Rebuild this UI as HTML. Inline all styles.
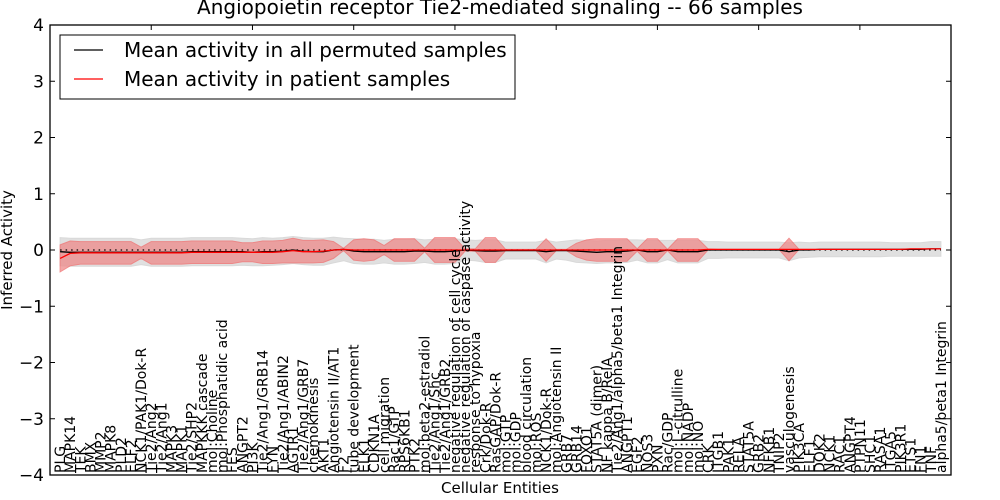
<!DOCTYPE html>
<html><head><meta charset="utf-8"><style>
body{margin:0;background:#fff;}
svg{display:block;font-family:"DejaVu Sans","Liberation Sans",sans-serif;}
</style></head><body>
<svg id="chart" width="1000" height="500" viewBox="0 0 1000 500">
<rect width="1000" height="500" fill="#fff"/>
<text x="500" y="14" text-anchor="middle" font-size="20">Angiopoietin receptor Tie2-mediated signaling -- 66 samples</text>
<g id="plot"></g>
<text x="500" y="493" text-anchor="middle" font-size="15">Cellular Entities</text>
<text transform="translate(12,250) rotate(-90)" text-anchor="middle" font-size="15">Inferred Activity</text>
<g>
<rect x="60" y="35" width="455" height="64" fill="#fff" stroke="#000" stroke-width="1"/>
<line x1="74" y1="50" x2="103" y2="50" stroke="#000" stroke-width="1.2"/>
<text x="124" y="57" font-size="20">Mean activity in all permuted samples</text>
<line x1="74" y1="79" x2="103" y2="79" stroke="#f00" stroke-width="1.2"/>
<text x="124" y="86" font-size="20">Mean activity in patient samples</text>
</g>
</svg>
<script>
const labels = ["PLG","MAPK14","TEK","BMX","MMP2","MAPK8","PLD2","ELF2","NCK1/PAK1/Dok-R","Tie2/Ang2","Tie2/Ang1","MAPK3","MAPK1","Tie2/SHP2","MAPKKK cascade","mol:Choline","mol:Phosphatidic acid","FES","ANGPT2","PI3K","Tie2/Ang1/GRB14","FYN","Tie2/Ang1/ABIN2","AGTR1","Tie2/Ang1/GRB7","chemokinesis","AKT1","Angiotensin II/AT1","F2","tube development","ELK1","CDKN1A","cell migration","Rac1/GTP","RPS6KB1","PTK2","mol:beta2-estradiol","Tie2/Ang1/Shc","Tie2/Ang1/GRB2","negative regulation of cell cycle","negative regulation of caspase activity","response to hypoxia","Crk/Dok-R","RasGAP/Dok-R","mol:GTP","mol:GDP","blood circulation","mol:ROS","NCK1/Dok-R","mol:Angiotensin II","GRB7","GRB14","FOXO1","STAT5A (dimer)","NF kappa B/RelA","Tie2/Ang1/alpha5/beta1 Integrin","ANGPT1","EGF2","NOS3","PXN","Rac/GDP","mol:L-citrulline","mol:NADP","mol:NO","CRK","ITGB1","PAK1","RELA","STAT5A","GRB2","NFKB1","TNIP2","vasculogenesis","PIK3CA","ELF1","DOK2","NCK1","RAC1","ANGPT4","PTPN11","SHC1","RASA1","ITGA5","PIK3R1","ETS1","FN1","TNF","alpha5/beta1 Integrin"];
const permMean = [-0.03,-0.04,-0.04,-0.04,-0.04,-0.04,-0.04,-0.04,-0.04,-0.04,-0.04,-0.04,-0.04,-0.03,-0.03,-0.03,-0.03,-0.03,-0.03,-0.04,-0.03,-0.03,-0.02,0.0,-0.02,-0.03,-0.03,0.0,0.01,-0.02,-0.03,-0.03,-0.03,-0.03,-0.03,-0.02,-0.02,-0.03,-0.03,-0.02,0.0,-0.01,-0.02,-0.02,-0.01,-0.01,-0.01,-0.01,-0.03,-0.01,-0.01,-0.02,-0.03,-0.04,-0.03,-0.03,-0.02,0.0,-0.03,-0.03,0.0,-0.03,-0.03,-0.03,0.0,0.0,0.0,0.0,0.0,0.0,0.0,0.0,-0.03,0.0,0.0,0.01,0.01,0.01,0.01,0.01,0.01,0.01,0.01,0.01,0.01,0.01,0.02,0.02];
const permStd = [0.25,0.25,0.25,0.25,0.25,0.25,0.25,0.25,0.22,0.25,0.25,0.25,0.25,0.25,0.25,0.25,0.25,0.25,0.24,0.24,0.25,0.24,0.24,0.24,0.24,0.24,0.24,0.23,0.2,0.22,0.22,0.22,0.2,0.22,0.22,0.22,0.2,0.22,0.22,0.22,0.18,0.18,0.2,0.2,0.15,0.15,0.15,0.15,0.2,0.15,0.17,0.2,0.2,0.2,0.2,0.2,0.2,0.18,0.2,0.2,0.17,0.2,0.2,0.2,0.15,0.15,0.14,0.14,0.14,0.14,0.14,0.14,0.16,0.14,0.13,0.13,0.13,0.13,0.13,0.13,0.13,0.13,0.12,0.12,0.12,0.12,0.13,0.13];
const patMean = [-0.15,-0.06,-0.05,-0.05,-0.05,-0.05,-0.05,-0.05,-0.05,-0.05,-0.05,-0.05,-0.05,-0.04,-0.04,-0.04,-0.04,-0.04,-0.04,-0.04,-0.04,-0.04,-0.03,-0.01,-0.03,-0.03,-0.02,0.0,0.01,0.0,0.0,0.0,0.0,0.0,0.0,0.0,0.0,0.0,0.0,0.0,0.0,0.0,0.0,0.0,0.0,0.0,0.0,0.0,0.0,0.0,0.0,0.0,0.0,0.0,0.0,0.0,0.0,0.0,0.0,0.0,0.0,0.0,0.0,0.0,0.01,0.01,0.01,0.01,0.01,0.01,0.01,0.01,0.01,0.01,0.01,0.01,0.01,0.01,0.01,0.01,0.01,0.01,0.01,0.01,0.02,0.02,0.02,0.02];
const patStd = [0.24,0.22,0.2,0.2,0.2,0.2,0.2,0.2,0.1,0.2,0.2,0.2,0.2,0.2,0.2,0.2,0.2,0.2,0.17,0.17,0.2,0.2,0.2,0.22,0.2,0.2,0.2,0.15,0.02,0.18,0.2,0.18,0.08,0.2,0.2,0.2,0.03,0.22,0.22,0.22,0.02,0.02,0.22,0.22,0.01,0.01,0.01,0.01,0.2,0.01,0.01,0.12,0.18,0.2,0.2,0.2,0.2,0.02,0.2,0.2,0.01,0.2,0.2,0.2,0.01,0.0,0.0,0.0,0.0,0.0,0.0,0.0,0.2,0.0,0.0,0.0,0.0,0.0,0.0,0.0,0.0,0.0,0.0,0.0,0.0,0.0,0.0,0.0];
const yTicks = [-4,-3,-2,-1,0,1,2,3,4];
const yTickLabels = ["\u22124","\u22123","\u22122","\u22121","0","1","2","3","4"];
const xTicks = [10,20,30,40,50,60,70,80];

const L=50,R=951,T=25,B=475,XMIN=0,XMAX=89,YMIN=-4,YMAX=4;
const xs=v=>L+(v-XMIN)/(XMAX-XMIN)*(R-L);
const ys=v=>B-(v-YMIN)/(YMAX-YMIN)*(B-T);
const NS="http://www.w3.org/2000/svg";
const g=document.getElementById('plot');
function mk(tag,attrs){const e=document.createElementNS(NS,tag);for(const k in attrs)e.setAttribute(k,attrs[k]);g.appendChild(e);return e;}
function band(mean,std){
  let up=[],dn=[];
  mean.forEach((m,i)=>{up.push(xs(i+1).toFixed(1)+','+ys(m+std[i]).toFixed(1));dn.push(xs(i+1).toFixed(1)+','+ys(m-std[i]).toFixed(1));});
  return up.concat(dn.reverse()).join(' ');
}
function line(mean){return mean.map((m,i)=>xs(i+1).toFixed(1)+','+ys(m).toFixed(1)).join(' ');}
const gb=mk('polygon',{points:band(permMean,permStd),fill:'#d9d9d9',stroke:'#d0d0d0','stroke-width':1,opacity:0.8});


const rb=mk('polygon',{points:band(patMean,patStd),fill:'#ee8a8a',stroke:'#f06a6a','stroke-width':1,opacity:0.75});


const zl=mk('line',{x1:xs(1),x2:xs(labels.length),y1:ys(0),y2:ys(0),stroke:'#000','stroke-dasharray':'1.5,4','stroke-width':1.2});


const bl=mk('polyline',{points:line(permMean),fill:'none',stroke:'#000','stroke-width':1.3});


const rl=mk('polyline',{points:line(patMean),fill:'none',stroke:'#f00','stroke-width':1.3});


const fr=mk('rect',{x:L,y:T,width:R-L,height:B-T,fill:'none',stroke:'#000','stroke-width':1.3});


yTicks.forEach((v,i)=>{
  const y=ys(v);
  const t1=mk('line',{x1:L,x2:L+5,y1:y,y2:y,stroke:'#000'});
  
  
  const t2=mk('line',{x1:R-5,x2:R,y1:y,y2:y,stroke:'#000'});
  
  
  const tx=mk('text',{x:L-6,y:y+6,'text-anchor':'end','font-size':17});
  tx.textContent=yTickLabels[i];
  
  
});
xTicks.forEach(v=>{
  const x=xs(v);
  const t=mk('line',{x1:x,x2:x,y1:T,y2:T+5,stroke:'#000'});
  
  
});
labels.forEach((s,i)=>{
  const x=xs(i+1)+5, y=B-2;
  const t=mk('text',{transform:`translate(${x.toFixed(1)},${y}) rotate(-90)`,'font-size':14});
  t.textContent=s;
  
  
});
</script>
</body></html>
